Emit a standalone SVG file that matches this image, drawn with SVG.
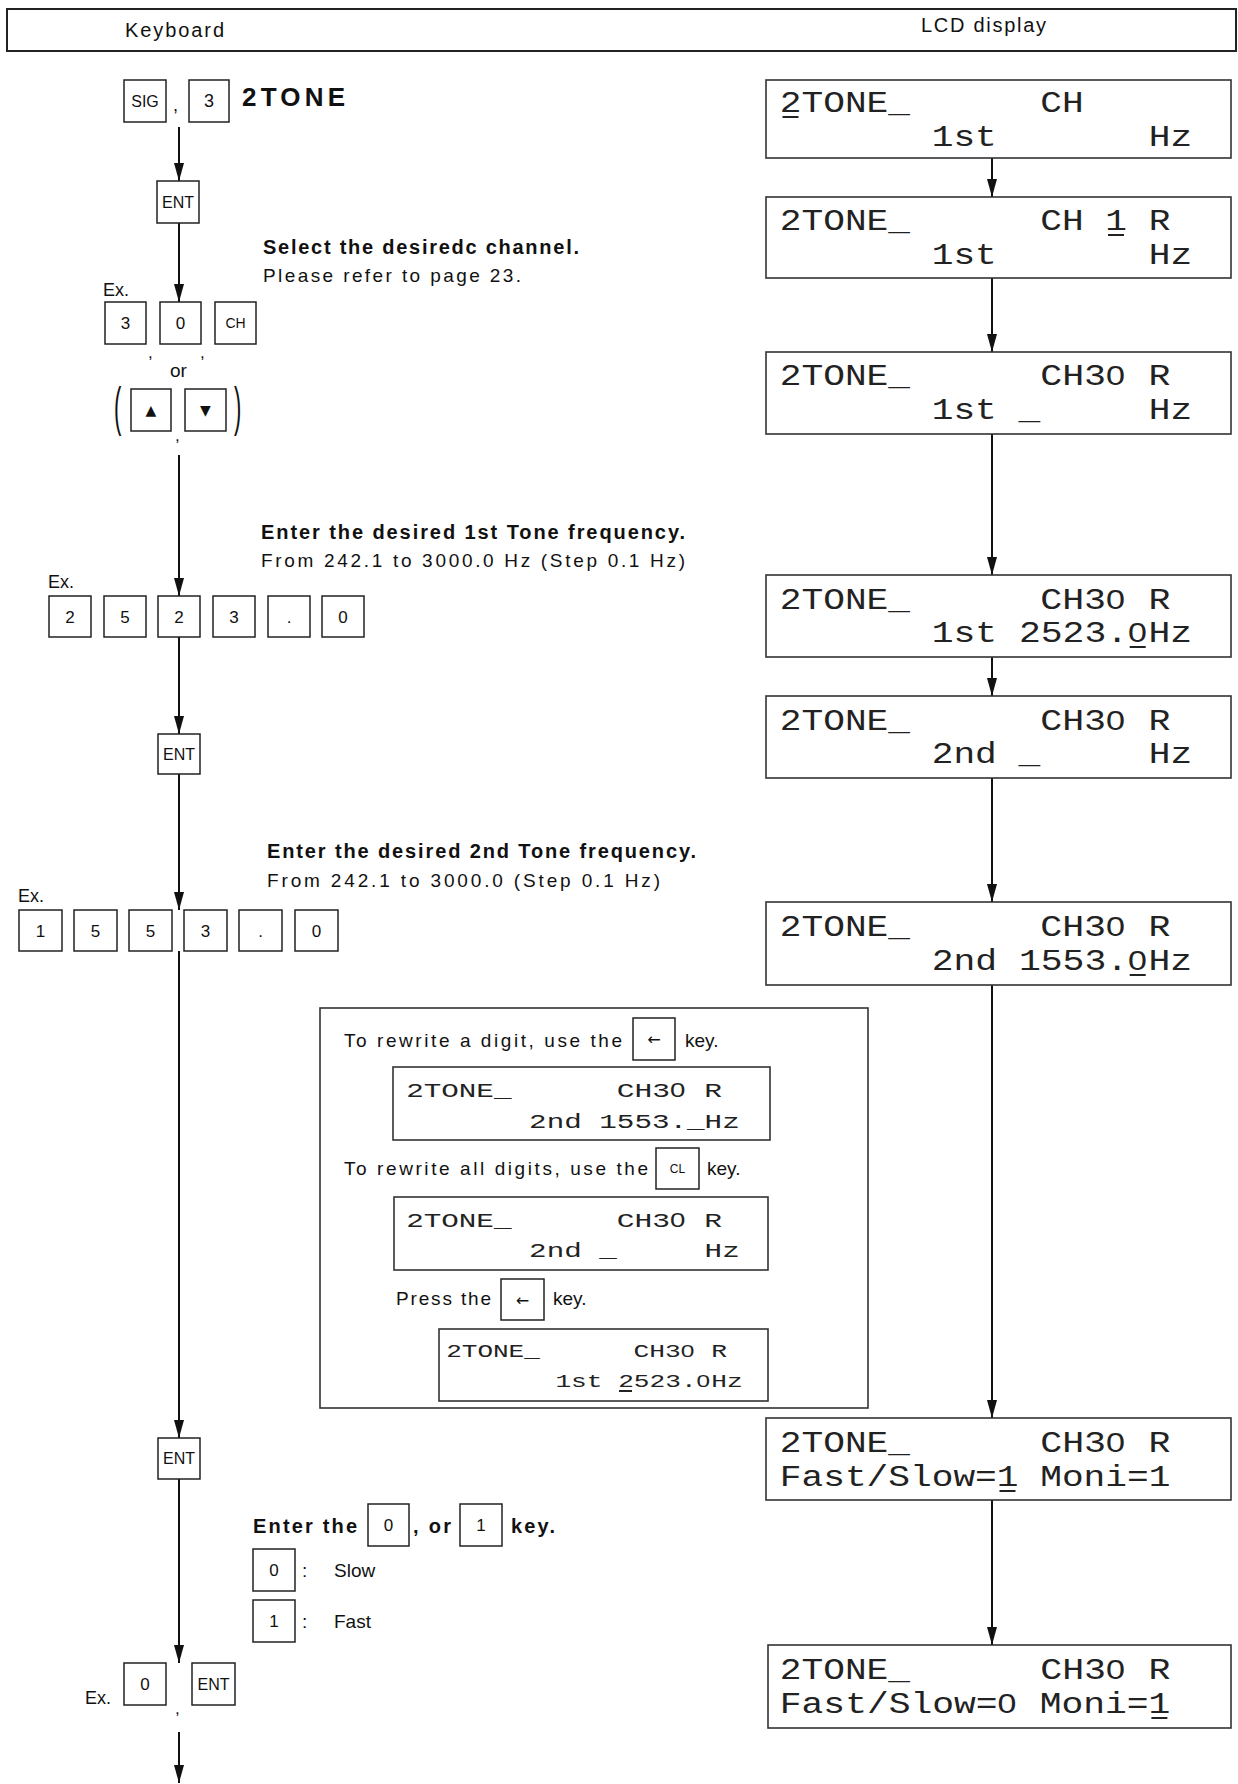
<svg xmlns="http://www.w3.org/2000/svg" width="1238" height="1784" viewBox="0 0 1238 1784">
<style>
.k{fill:#fff;stroke:#222;stroke-width:1.5}
.lcd{fill:#fff;stroke:#333;stroke-width:1.6}
.t{font-family:"Liberation Sans",Arial,sans-serif;fill:#111}
.b{font-weight:bold}
.kl{font-family:"Liberation Sans",Arial,sans-serif;text-anchor:middle;fill:#111}
.sym{font-family:"DejaVu Sans",sans-serif;text-anchor:middle;fill:#111}
.m{font-family:"Liberation Mono","DejaVu Sans Mono",monospace;fill:#222;font-size:30px}
.m2{font-family:"Liberation Mono","DejaVu Sans Mono",monospace;fill:#222;font-size:21px}
.m3{font-family:"Liberation Mono","DejaVu Sans Mono",monospace;fill:#222;font-size:18px}
.z{font-family:"Liberation Sans",Arial,sans-serif;font-size:28px;letter-spacing:1.2px}
.z2{font-family:"Liberation Sans",Arial,sans-serif;font-size:19.6px;letter-spacing:0.8px}
.z3{font-family:"Liberation Sans",Arial,sans-serif;font-size:16.8px;letter-spacing:0.7px}
.ca{stroke:#111;stroke-width:2;fill:none;marker-end:url(#ah)}
.u{stroke:#222;stroke-width:2}
</style>
<defs>
<marker id="ah" markerUnits="userSpaceOnUse" markerWidth="18" markerHeight="10" refX="18" refY="5" orient="auto"><path d="M0,0 L18,5 L0,10 Z" fill="#111"/></marker>
</defs>
<rect width="1238" height="1784" fill="#fff"/>

<g id="header">
<rect x="7" y="9" width="1229" height="42" fill="none" stroke="#222" stroke-width="2"/>
<text x="125" y="37" class="t" font-size="20" textLength="99">Keyboard</text>
<text x="921" y="32" class="t" font-size="20" textLength="125">LCD display</text>
</g>

<g id="connectors">
<line class="ca" x1="179" y1="127" x2="179" y2="181"/>
<line class="ca" x1="179" y1="223" x2="179" y2="302"/>
<line class="ca" x1="179" y1="455" x2="179" y2="596"/>
<line class="ca" x1="179" y1="637" x2="179" y2="734"/>
<line class="ca" x1="179" y1="774" x2="179" y2="910"/>
<line class="ca" x1="179" y1="951" x2="179" y2="1438"/>
<line class="ca" x1="179" y1="1479" x2="179" y2="1663"/>
<line class="ca" x1="179" y1="1732" x2="179" y2="1783"/>
<line class="ca" x1="992" y1="158" x2="992" y2="197"/>
<line class="ca" x1="992" y1="278" x2="992" y2="352"/>
<line class="ca" x1="992" y1="434" x2="992" y2="575"/>
<line class="ca" x1="992" y1="657" x2="992" y2="696"/>
<line class="ca" x1="992" y1="778" x2="992" y2="902"/>
<line class="ca" x1="992" y1="985" x2="992" y2="1418"/>
<line class="ca" x1="992" y1="1500" x2="992" y2="1645"/>
<line class="ca" x1="670" y1="1270" x2="670" y2="1329"/>
</g>

<g id="step-sig3">
<rect class="k" x="124" y="80" width="42" height="42"/>
<text class="kl" x="145" y="107" font-size="16">SIG</text>
<text class="t" x="173" y="111" font-size="18">,</text>
<rect class="k" x="189" y="80" width="40" height="42"/>
<text class="kl" x="209" y="107" font-size="18">3</text>
<text class="t b" x="242" y="106" font-size="26" textLength="103">2TONE</text>
</g>

<g id="key-ent1">
<rect class="k" x="157" y="181" width="42" height="42"/>
<text class="kl" x="178" y="208" font-size="16">ENT</text>
</g>

<g id="note-channel">
<text class="t b" x="263" y="254" font-size="20" textLength="316">Select the desiredc channel.</text>
<text class="t" x="263" y="282" font-size="19" textLength="258">Please refer to page 23.</text>
</g>

<g id="step-channel">
<text class="t" x="103" y="296" font-size="18">Ex.</text>
<rect class="k" x="105" y="302" width="41" height="42"/>
<text class="kl" x="125.5" y="329" font-size="17">3</text>
<rect class="k" x="160" y="302" width="41" height="42"/>
<text class="kl" x="180.5" y="329" font-size="17">0</text>
<rect class="k" x="215" y="302" width="41" height="42"/>
<text class="kl" x="235.5" y="328" font-size="14">CH</text>
<text class="t" x="148" y="358" font-size="17">,</text>
<text class="t" x="200" y="358" font-size="17">,</text>
<text class="t" x="170" y="377" font-size="19">or</text>
<text class="t" transform="translate(114,425) scale(1,2.4)" font-size="22">(</text>
<text class="t" transform="translate(234,425) scale(1,2.4)" font-size="22">)</text>
<rect class="k" x="131" y="389" width="40" height="42"/>
<text class="sym" x="151" y="415" font-size="14">▲</text>
<rect class="k" x="185" y="389" width="41" height="42"/>
<text class="sym" x="205.5" y="415" font-size="14">▼</text>
<text class="t" x="175" y="441" font-size="17">,</text>
</g>

<g id="note-1st">
<text class="t b" x="261" y="539" font-size="20" textLength="424">Enter the desired 1st Tone frequency.</text>
<text class="t" x="261" y="567" font-size="19" textLength="424">From 242.1 to 3000.0 Hz (Step 0.1 Hz)</text>
</g>

<g id="step-1st">
<text class="t" x="48" y="588" font-size="18">Ex.</text>
<rect class="k" x="49" y="596" width="42" height="41"/><text class="kl" x="70" y="623" font-size="17">2</text>
<rect class="k" x="104" y="596" width="42" height="41"/><text class="kl" x="125" y="623" font-size="17">5</text>
<rect class="k" x="158" y="596" width="42" height="41"/><text class="kl" x="179" y="623" font-size="17">2</text>
<rect class="k" x="213" y="596" width="42" height="41"/><text class="kl" x="234" y="623" font-size="17">3</text>
<rect class="k" x="268" y="596" width="42" height="41"/><text class="kl" x="289" y="623" font-size="17">.</text>
<rect class="k" x="322" y="596" width="42" height="41"/><text class="kl" x="343" y="623" font-size="17">0</text>
</g>

<g id="key-ent2">
<rect class="k" x="158" y="734" width="42" height="40"/>
<text class="kl" x="179" y="760" font-size="16">ENT</text>
</g>

<g id="note-2nd">
<text class="t b" x="267" y="858" font-size="20" textLength="429">Enter the desired 2nd Tone frequency.</text>
<text class="t" x="267" y="887" font-size="19" textLength="393">From 242.1 to 3000.0 (Step 0.1 Hz)</text>
</g>

<g id="step-2nd">
<text class="t" x="18" y="902" font-size="18">Ex.</text>
<rect class="k" x="19" y="910" width="43" height="41"/><text class="kl" x="40.5" y="937" font-size="17">1</text>
<rect class="k" x="74" y="910" width="43" height="41"/><text class="kl" x="95.5" y="937" font-size="17">5</text>
<rect class="k" x="129" y="910" width="43" height="41"/><text class="kl" x="150.5" y="937" font-size="17">5</text>
<rect class="k" x="184" y="910" width="43" height="41"/><text class="kl" x="205.5" y="937" font-size="17">3</text>
<rect class="k" x="239" y="910" width="43" height="41"/><text class="kl" x="260.5" y="937" font-size="17">.</text>
<rect class="k" x="295" y="910" width="43" height="41"/><text class="kl" x="316.5" y="937" font-size="17">0</text>
</g>

<g id="inset-rewrite">
<rect x="320" y="1008" width="548" height="400" fill="#fff" stroke="#333" stroke-width="1.6"/>
<text class="t" x="344" y="1047" font-size="19" textLength="278">To rewrite a digit, use the</text>
<rect class="k" x="633" y="1018" width="42" height="42"/>
<text class="sym" x="654" y="1045" font-size="16">←</text>
<text class="t" x="685" y="1047" font-size="19">key.</text>
<rect class="lcd" x="393" y="1067" width="377" height="73"/>
<text class="m2" x="406.2" y="1097" textLength="105.3" lengthAdjust="spacingAndGlyphs">2TONE_</text>
<text class="m2" x="616.8" y="1097" textLength="105.3" lengthAdjust="spacingAndGlyphs">CH3<tspan class="z2">0</tspan> R</text>
<text class="m2" x="529.1" y="1128" textLength="210.6" lengthAdjust="spacingAndGlyphs">2nd 1553._Hz</text>
<text class="t" x="344" y="1175" font-size="19" textLength="304">To rewrite all digits, use the</text>
<rect class="k" x="656" y="1148" width="43" height="41"/>
<text class="kl" x="677.5" y="1173" font-size="12">CL</text>
<text class="t" x="707" y="1175" font-size="19">key.</text>
<rect class="lcd" x="394" y="1197" width="374" height="73"/>
<text class="m2" x="406.2" y="1227" textLength="105.3" lengthAdjust="spacingAndGlyphs">2TONE_</text>
<text class="m2" x="616.8" y="1227" textLength="105.3" lengthAdjust="spacingAndGlyphs">CH3<tspan class="z2">0</tspan> R</text>
<text class="m2" x="529.1" y="1257" textLength="87.75" lengthAdjust="spacingAndGlyphs">2nd _</text>
<text class="m2" x="704.6" y="1257" textLength="35.1" lengthAdjust="spacingAndGlyphs">Hz</text>
<text class="t" x="396" y="1305" font-size="19" textLength="95">Press the</text>
<rect class="k" x="501" y="1279" width="43" height="41"/>
<text class="sym" x="522.5" y="1306" font-size="16">←</text>
<text class="t" x="553" y="1305" font-size="19">key.</text>
<rect class="lcd" x="439" y="1329" width="329" height="72"/>
<text class="m3" x="446.2" y="1357" textLength="93.6" lengthAdjust="spacingAndGlyphs">2TONE_</text>
<text class="m3" x="633.4" y="1357" textLength="93.6" lengthAdjust="spacingAndGlyphs">CH3<tspan class="z3">0</tspan> R</text>
<text class="m3" x="555.4" y="1387" textLength="187.2" lengthAdjust="spacingAndGlyphs">1st 2523.<tspan class="z3">0</tspan>Hz</text>
<line class="u" x1="619" y1="1391" x2="632" y2="1391"/>
</g>

<g id="key-ent3">
<rect class="k" x="158" y="1438" width="42" height="41"/>
<text class="kl" x="179" y="1464" font-size="16">ENT</text>
</g>

<g id="note-fastslow">
<text class="t b" x="253" y="1533" font-size="20" textLength="104">Enter the</text>
<rect class="k" x="368" y="1504" width="41" height="42"/>
<text class="kl" x="388.5" y="1531" font-size="17">0</text>
<text class="t b" x="413" y="1533" font-size="20" textLength="38">, or</text>
<rect class="k" x="460" y="1504" width="42" height="42"/>
<text class="kl" x="481" y="1531" font-size="17">1</text>
<text class="t b" x="511" y="1533" font-size="20" textLength="44">key.</text>
<rect class="k" x="253" y="1549" width="42" height="42"/>
<text class="kl" x="274" y="1576" font-size="17">0</text>
<text class="t" x="302" y="1577" font-size="19">:</text>
<text class="t" x="334" y="1577" font-size="19">Slow</text>
<rect class="k" x="253" y="1600" width="42" height="42"/>
<text class="kl" x="274" y="1627" font-size="17">1</text>
<text class="t" x="302" y="1628" font-size="19">:</text>
<text class="t" x="334" y="1628" font-size="19">Fast</text>
</g>

<g id="step-fastslow">
<text class="t" x="85" y="1704" font-size="18">Ex.</text>
<rect class="k" x="124" y="1663" width="42" height="42"/>
<text class="kl" x="145" y="1690" font-size="17">0</text>
<text class="t" x="175" y="1714" font-size="17">,</text>
<rect class="k" x="192" y="1663" width="43" height="42"/>
<text class="kl" x="213.5" y="1690" font-size="16">ENT</text>
</g>

<g id="lcd1">
<rect class="lcd" x="766" y="80" width="465" height="78"/>
<text class="m" x="779.8" y="112" textLength="130.2" lengthAdjust="spacingAndGlyphs">2TONE_</text>
<text class="m" x="1040.2" y="112" textLength="43.4" lengthAdjust="spacingAndGlyphs">CH</text>
<text class="m" x="931.7" y="146" textLength="65.1" lengthAdjust="spacingAndGlyphs">1st</text>
<text class="m" x="1148.7" y="146" textLength="43.4" lengthAdjust="spacingAndGlyphs">Hz</text>
<line class="u" x1="782.5" y1="117" x2="798.5" y2="117"/>
</g>

<g id="lcd2">
<rect class="lcd" x="766" y="197" width="465" height="81"/>
<text class="m" x="779.8" y="230" textLength="130.2" lengthAdjust="spacingAndGlyphs">2TONE_</text>
<text class="m" x="1040.2" y="230" textLength="130.2" lengthAdjust="spacingAndGlyphs">CH 1 R</text>
<text class="m" x="931.7" y="264" textLength="65.1" lengthAdjust="spacingAndGlyphs">1st</text>
<text class="m" x="1148.7" y="264" textLength="43.4" lengthAdjust="spacingAndGlyphs">Hz</text>
<line class="u" x1="1108" y1="235" x2="1124" y2="235"/>
</g>

<g id="lcd3">
<rect class="lcd" x="766" y="352" width="465" height="82"/>
<text class="m" x="779.8" y="385" textLength="130.2" lengthAdjust="spacingAndGlyphs">2TONE_</text>
<text class="m" x="1040.2" y="385" textLength="130.2" lengthAdjust="spacingAndGlyphs">CH3<tspan class="z">0</tspan> R</text>
<text class="m" x="931.7" y="419" textLength="108.5" lengthAdjust="spacingAndGlyphs">1st _</text>
<text class="m" x="1148.7" y="419" textLength="43.4" lengthAdjust="spacingAndGlyphs">Hz</text>
</g>

<g id="lcd4">
<rect class="lcd" x="766" y="575" width="465" height="82"/>
<text class="m" x="779.8" y="609" textLength="130.2" lengthAdjust="spacingAndGlyphs">2TONE_</text>
<text class="m" x="1040.2" y="609" textLength="130.2" lengthAdjust="spacingAndGlyphs">CH3<tspan class="z">0</tspan> R</text>
<text class="m" x="931.7" y="642" textLength="260.4" lengthAdjust="spacingAndGlyphs">1st 2523.<tspan class="z">0</tspan>Hz</text>
<line class="u" x1="1129.7" y1="647" x2="1145.7" y2="647"/>
</g>

<g id="lcd5">
<rect class="lcd" x="766" y="696" width="465" height="82"/>
<text class="m" x="779.8" y="730" textLength="130.2" lengthAdjust="spacingAndGlyphs">2TONE_</text>
<text class="m" x="1040.2" y="730" textLength="130.2" lengthAdjust="spacingAndGlyphs">CH3<tspan class="z">0</tspan> R</text>
<text class="m" x="931.7" y="763" textLength="108.5" lengthAdjust="spacingAndGlyphs">2nd _</text>
<text class="m" x="1148.7" y="763" textLength="43.4" lengthAdjust="spacingAndGlyphs">Hz</text>
</g>

<g id="lcd6">
<rect class="lcd" x="766" y="902" width="465" height="83"/>
<text class="m" x="779.8" y="936" textLength="130.2" lengthAdjust="spacingAndGlyphs">2TONE_</text>
<text class="m" x="1040.2" y="936" textLength="130.2" lengthAdjust="spacingAndGlyphs">CH3<tspan class="z">0</tspan> R</text>
<text class="m" x="931.7" y="970" textLength="260.4" lengthAdjust="spacingAndGlyphs">2nd 1553.<tspan class="z">0</tspan>Hz</text>
<line class="u" x1="1129.7" y1="975" x2="1145.7" y2="975"/>
</g>

<g id="lcd7">
<rect class="lcd" x="766" y="1418" width="465" height="82"/>
<text class="m" x="779.8" y="1452" textLength="130.2" lengthAdjust="spacingAndGlyphs">2TONE_</text>
<text class="m" x="1040.2" y="1452" textLength="130.2" lengthAdjust="spacingAndGlyphs">CH3<tspan class="z">0</tspan> R</text>
<text class="m" x="779.8" y="1486" textLength="390.6" lengthAdjust="spacingAndGlyphs">Fast/Slow=1 Moni=1</text>
<line class="u" x1="999.5" y1="1491" x2="1015.5" y2="1491"/>
</g>

<g id="lcd8">
<rect class="lcd" x="768" y="1645" width="463" height="83"/>
<text class="m" x="779.8" y="1679" textLength="130.2" lengthAdjust="spacingAndGlyphs">2TONE_</text>
<text class="m" x="1040.2" y="1679" textLength="130.2" lengthAdjust="spacingAndGlyphs">CH3<tspan class="z">0</tspan> R</text>
<text class="m" x="779.8" y="1713" textLength="390.6" lengthAdjust="spacingAndGlyphs">Fast/Slow=<tspan class="z">0</tspan> Moni=1</text>
<line class="u" x1="1151.4" y1="1718" x2="1167.4" y2="1718"/>
</g>
</svg>
